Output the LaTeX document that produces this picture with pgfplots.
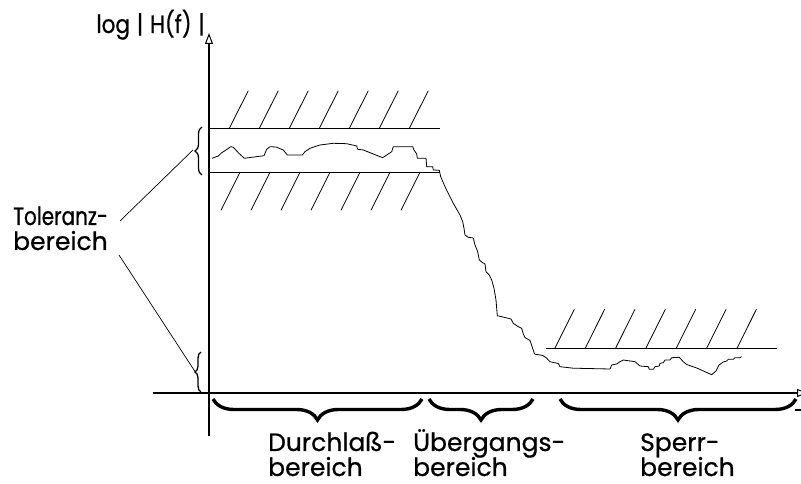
\documentclass[border=0pt]{standalone}
\usepackage{fontspec}
\setmainfont{Poppins}[FakeBold=0.7]
\usepackage{pgfplots}
\pgfplotsset{compat=1.18}
\usetikzlibrary{arrows.meta,decorations.pathreplacing}

\begin{document}
\begin{tikzpicture}
\begin{axis}[
  scale only axis, width=655pt, height=403pt,
  xmin=-56, xmax=599, ymin=-43, ymax=360,
  axis lines=middle, ticks=none,
  axis line style={line width=1.3pt, -{Triangle[open,length=11pt,width=8pt,line width=1pt]}},
  clip=false,
]
\coordinate (bbA) at (axis cs:-209,-91);
\coordinate (bbB) at (axis cs:592,393);
% frequency response
\addplot[black, line width=0.8pt] coordinates {
(3,234.7) (9.3,237) (12.7,240.3) (16,242.3) (21.7,246.3) (24.3,245.8) (29.3,240.3) (35.3,234.7)
(55,237.3) (57.7,243.7) (61,246.3) (67,246) (74.3,243) (78.3,238) (93.3,238) (96,241.3)
(101,244.7) (111,248) (124.3,249.7) (137.7,249.3) (147.7,247) (148.7,243.7) (154.3,243)
(164.3,239) (173.7,235.3) (177.7,238) (182.7,241.3) (184.3,246.3) (203.7,246.3) (205,243)
(207.7,239) (208.3,234.7) (217,234.7) (217.7,226.3) (223.7,226.3) (224.3,223) (230.3,222.7)
(231.7,216.3) (236,206.3) (244.3,189.7) (251,178) (253.7,171.3) (255,164.7) (256,158)
(259.3,155.7) (264.3,155) (266,148) (268.7,141.3) (270.3,133) (273.7,130.3) (276,129)
(277,121.3) (280.3,118) (282.7,113) (285,104.7) (287,93) (288.3,77.3) (292.7,76.3) (302,74)
(304.3,69.7) (309.3,66.3) (312.7,64.7) (314.3,59) (316,55.5) (321,52.5) (323.7,44.5)
(325.5,39) (333.7,37.5) (337.5,35) (341,31.3) (349.3,29.5) (351,26.3) (364.3,24.8) (401,24)
(402.7,28) (407.7,29) (411,31.3) (414.3,33) (426,31.3) (431,27) (439.3,26.3) (440.3,23.7)
(444.3,23.7) (446,26.3) (450.3,27) (451,29.7) (454.3,30.3) (456,33) (461,33) (462.7,35.3)
(470.3,35.7) (474.3,31.3) (477.7,28.5) (487.7,25) (502.7,18.3) (507,22) (510,28) (514.3,31)
(517.7,32) (519.3,33.7) (524.3,33.7) (526,35.3) (531,35.3) (532.5,36.3)
};
% tolerance limits
\addplot[black, line width=0.8pt] coordinates {(0,264.7) (231,264.7)};
\addplot[black, line width=0.8pt] coordinates {(0,220.7) (231,220.7)};
\addplot[black, line width=0.8pt] coordinates {(337,45) (567.7,45)};
% hatching
\pgfplotsinvokeforeach{0,...,6}{
  \draw[line width=0.8pt] (axis cs:{20.3+30*#1},264.7) -- (axis cs:{39.3+30*#1},302.3);
  \draw[line width=0.8pt] (axis cs:{31+30*#1},220.7) -- (axis cs:{12+30*#1},182.7);
  \draw[line width=0.8pt] (axis cs:{346+30.35*#1},45) -- (axis cs:{365.3+30.35*#1},83.7);
}
% braces below the axis
\draw[decorate, decoration={brace, mirror, amplitude=21pt}, line width=3.4pt] (axis cs:4,-6) -- (axis cs:213,-6);
\draw[decorate, decoration={brace, mirror, amplitude=21pt}, line width=3.4pt] (axis cs:220,-6) -- (axis cs:324,-6);
\draw[decorate, decoration={brace, mirror, amplitude=21pt}, line width=3.4pt] (axis cs:351,-6) -- (axis cs:587,-6);
% tolerance braces
\draw[decorate, decoration={brace, amplitude=7pt}, line width=1.3pt] (axis cs:-7,218) -- (axis cs:-7,266);
\draw[decorate, decoration={brace, amplitude=6pt}, line width=1.3pt] (axis cs:-8,1) -- (axis cs:-8,41);
\draw[line width=0.7pt] (axis cs:-89,172) -- (axis cs:-16,243);
\draw[line width=0.7pt] (axis cs:-90,138) -- (axis cs:-14,21.5);
\draw[line width=1.3pt] (axis cs:586,-17) -- (axis cs:594,-17);
% texts
\begin{scope}[every node/.style={anchor=base west, inner sep=0pt, font=\fontsize{25}{26}\selectfont}]
\node at (axis cs:-196,168) {\addfontfeature{FakeStretch=0.8}Toleranz-};
\node at (axis cs:-196,143) {bereich};
\node at (axis cs:59,-58) {Durchlaß-};
\node at (axis cs:59,-83) {bereich};
\node at (axis cs:204,-58) {Übergangs-};
\node at (axis cs:204,-83) {bereich};
\node at (axis cs:431,-58) {Sperr-};
\node at (axis cs:431,-83) {bereich};
\node[anchor=base east] at (axis cs:-4,360) {\addfontfeature{FakeStretch=0.86}log\;|\;H(f)\;|};
\end{scope}
\end{axis}
\pgfresetboundingbox
\useasboundingbox (bbA) rectangle (bbB);
\end{tikzpicture}
\end{document}
